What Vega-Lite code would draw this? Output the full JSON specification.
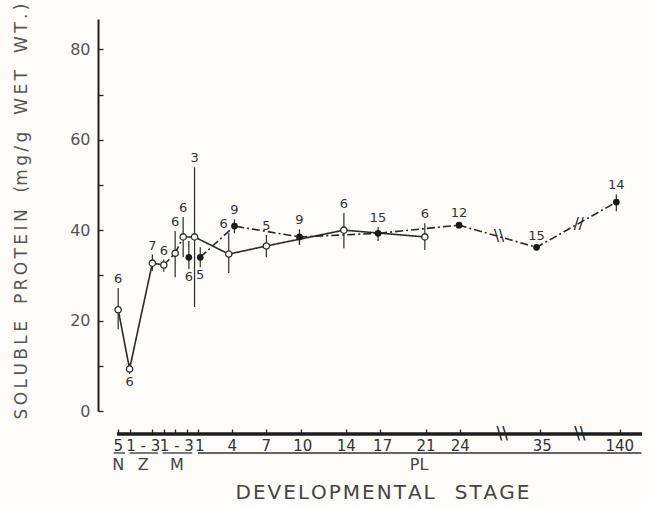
{
  "$schema": "https://vega.github.io/schema/vega-lite/v6.json",
  "background": "#fdfcf9",
  "padding": {"left": 12, "top": 3, "right": 5, "bottom": 3},
  "bounds": "flush",
  "spacing": 23,
  "config": {"view": {"stroke": null}, "font": "DejaVu Sans"},
  "datasets": {
    "pts": [
      {"stage": "N5", "type": "open", "t": -7, "v": 22.4, "lo": 18.1, "hi": 27.2, "n": "6", "lab": "above"},
      {"stage": "Z1", "type": "open", "t": -6, "v": 9.3, "lo": 8.2, "hi": 10.5, "n": "6", "lab": "below"},
      {"stage": "Z3", "type": "open", "t": -4, "v": 32.7, "lo": 31.0, "hi": 34.6, "n": "7", "lab": "above"},
      {"stage": "M1", "type": "open", "t": -3, "v": 32.3, "lo": 30.8, "hi": 33.5, "n": "6", "lab": "above"},
      {"stage": "M2", "type": "open", "t": -2, "v": 34.9, "lo": 29.6, "hi": 39.8, "n": "6", "lab": "above"},
      {"stage": "M3", "type": "open", "t": -1.3, "v": 38.5, "lo": 34.0, "hi": 42.9, "n": "6", "lab": "above"},
      {"stage": "PL1", "type": "open", "t": -0.3, "v": 38.5, "lo": 23.0, "hi": 53.9, "n": "3", "lab": "above"},
      {"stage": "M3", "type": "filled", "t": -0.8, "v": 34.0, "lo": 31.4, "hi": 37.6, "n": "6", "lab": "below"},
      {"stage": "PL1", "type": "filled", "t": 0.2, "v": 34.0, "lo": 31.8, "hi": 36.2, "n": "5", "lab": "below"},
      {"stage": "PL4", "type": "open", "t": 2.7, "v": 34.7, "lo": 30.5, "hi": 39.3, "n": "6", "lab": "aboveLeft"},
      {"stage": "PL4", "type": "filled", "t": 3.2, "v": 40.9, "lo": 39.3, "hi": 42.4, "n": "9", "lab": "above"},
      {"stage": "PL7", "type": "open", "t": 6.0, "v": 36.5, "lo": 34.0, "hi": 38.9, "n": "5", "lab": "above"},
      {"stage": "PL10", "type": "filled", "t": 8.9, "v": 38.5, "lo": 36.7, "hi": 40.2, "n": "9", "lab": "above"},
      {"stage": "PL14", "type": "open", "t": 12.8, "v": 40.0, "lo": 36.0, "hi": 43.8, "n": "6", "lab": "above"},
      {"stage": "PL17", "type": "filled", "t": 15.8, "v": 39.3, "lo": 37.6, "hi": 40.7, "n": "15", "lab": "above"},
      {"stage": "PL21", "type": "open", "t": 19.9, "v": 38.5, "lo": 35.6, "hi": 41.5, "n": "6", "lab": "above"},
      {"stage": "PL24", "type": "filled", "t": 22.9, "v": 41.1, "lo": 40.4, "hi": 41.8, "n": "12", "lab": "above"},
      {"stage": "PL35", "type": "filled", "t": 29.7, "v": 36.2, "lo": 35.7, "hi": 36.7, "n": "15", "lab": "above"},
      {"stage": "PL140", "type": "filled", "t": 36.7, "v": 46.2, "lo": 44.2, "hi": 47.9, "n": "14", "lab": "above"}
    ],
    "segs": [
      {"seg": "o1", "style": "solid", "t": -7, "v": 22.4},
      {"seg": "o1", "style": "solid", "t": -6, "v": 9.3},
      {"seg": "o1", "style": "solid", "t": -4, "v": 32.7},
      {"seg": "o1", "style": "solid", "t": -3, "v": 32.3},
      {"seg": "o2", "style": "dashdot", "t": -3, "v": 32.3},
      {"seg": "o2", "style": "dashdot", "t": -2, "v": 34.9},
      {"seg": "o2", "style": "dashdot", "t": -1.3, "v": 38.5},
      {"seg": "o3", "style": "solid", "t": -1.3, "v": 38.5},
      {"seg": "o3", "style": "solid", "t": -0.3, "v": 38.5},
      {"seg": "o3", "style": "solid", "t": 2.7, "v": 34.7},
      {"seg": "o3", "style": "solid", "t": 6.0, "v": 36.5},
      {"seg": "o3", "style": "solid", "t": 12.8, "v": 40.0},
      {"seg": "o3", "style": "solid", "t": 19.9, "v": 38.5},
      {"seg": "f1", "style": "dashdot", "t": 0.2, "v": 34.0},
      {"seg": "f1", "style": "dashdot", "t": 3.2, "v": 40.9},
      {"seg": "f1", "style": "dashdot", "t": 8.9, "v": 38.5},
      {"seg": "f1", "style": "dashdot", "t": 15.8, "v": 39.3},
      {"seg": "f1", "style": "dashdot", "t": 22.9, "v": 41.1},
      {"seg": "f1", "style": "dashdot", "t": 29.7, "v": 36.2},
      {"seg": "f1", "style": "dashdot", "t": 36.7, "v": 46.2}
    ],
    "linebreaks": [
      {"t": 26.4, "v": 38.7, "sym": "\\\\"},
      {"t": 33.4, "v": 41.3, "sym": "//"}
    ],
    "axisline": [
      {"x": -7.1, "x2": 38.95}
    ],
    "axisbreaks": [
      {"t": 26.7, "sym": "\\\\"},
      {"t": 33.5, "sym": "\\\\"}
    ],
    "stages": [
      {"t": -7, "lab": "5"},
      {"t": -4.8, "lab": "1 - 3"},
      {"t": -1.85, "lab": "1 - 3"},
      {"t": 0.15, "lab": "1"},
      {"t": 3, "lab": "4"},
      {"t": 6, "lab": "7"},
      {"t": 9.2, "lab": "10"},
      {"t": 13, "lab": "14"},
      {"t": 16.2, "lab": "17"},
      {"t": 20, "lab": "21"},
      {"t": 23, "lab": "24"},
      {"t": 30.2, "lab": "35"},
      {"t": 37, "lab": "140"}
    ],
    "underlines": [
      {"x": -7.4, "x2": -6.4},
      {"x": -6.0, "x2": -3.5},
      {"x": -3.1, "x2": -0.5},
      {"x": 0, "x2": 38.9}
    ],
    "groups": [
      {"t": -7, "lab": "N"},
      {"t": -4.8, "lab": "Z"},
      {"t": -1.85, "lab": "M"},
      {"t": 19.4, "lab": "PL"}
    ]
  },
  "vconcat": [
    {
      "width": 544,
      "height": 392,
      "layer": [
        {
          "data": {"name": "segs"},
          "mark": {"type": "line", "color": "#2a2a2a", "strokeWidth": 1.6},
          "encoding": {
            "x": {"field": "t", "type": "quantitative", "scale": {"domain": [-8.77, 38.95], "nice": false, "zero": false}, "axis": null},
            "y": {
              "field": "v", "type": "quantitative",
              "scale": {"domain": [0, 86.7], "nice": false, "zero": false},
              "axis": {
                "title": "S\u2009O\u2009L\u2009U\u2009B\u2009L\u2009E\u2003P\u2009R\u2009O\u2009T\u2009E\u2009I\u2009N\u2003(m\u2009g\u2009/\u2009g\u2003W\u2009E\u2009T\u2003W\u2009T\u2009.\u2009)",
                "values": [0, 10, 20, 30, 40, 50, 60, 70, 80],
                "labelExpr": "datum.value % 20 === 0 ? datum.label : ''",
                "tickSize": -5, "tickWidth": 1.3, "tickColor": "#222",
                "domainColor": "#222", "domainWidth": 2,
                "labelFontSize": 16, "labelColor": "#555", "labelPadding": 13,
                "titleFontSize": 17, "titleFontWeight": "normal", "titleColor": "#555", "titlePadding": 39,
                "titleY": 192,
                "grid": false
              }
            },
            "detail": {"field": "seg"},
            "strokeDash": {"field": "style", "type": "nominal", "scale": {"domain": ["solid", "dashdot"], "range": [[1, 0], [8, 3, 2, 3]]}, "legend": null}
          }
        },
        {
          "data": {"name": "pts"},
          "mark": {"type": "rule", "color": "#2a2a2a", "strokeWidth": 1.2},
          "encoding": {
            "x": {"field": "t", "type": "quantitative"},
            "y": {"field": "lo", "type": "quantitative"},
            "y2": {"field": "hi"}
          }
        },
        {
          "data": {"name": "pts"},
          "transform": [{"filter": "datum.type === 'open'"}],
          "mark": {"type": "point", "shape": "circle", "filled": true, "fill": "#fdfcf9", "stroke": "#2a2a2a", "strokeWidth": 1.3, "size": 40, "opacity": 1},
          "encoding": {
            "x": {"field": "t", "type": "quantitative"},
            "y": {"field": "v", "type": "quantitative"}
          }
        },
        {
          "data": {"name": "pts"},
          "transform": [{"filter": "datum.type === 'filled'"}],
          "mark": {"type": "point", "shape": "circle", "filled": true, "color": "#1a1a1a", "size": 45, "opacity": 1},
          "encoding": {
            "x": {"field": "t", "type": "quantitative"},
            "y": {"field": "v", "type": "quantitative"}
          }
        },
        {
          "data": {"name": "pts"},
          "transform": [{"filter": "datum.lab === 'above'"}],
          "mark": {"type": "text", "fontSize": 13, "color": "#333", "baseline": "bottom", "dy": -2},
          "encoding": {
            "x": {"field": "t", "type": "quantitative"},
            "y": {"field": "hi", "type": "quantitative"},
            "text": {"field": "n"}
          }
        },
        {
          "data": {"name": "pts"},
          "transform": [{"filter": "datum.lab === 'aboveLeft'"}],
          "mark": {"type": "text", "fontSize": 13, "color": "#333", "baseline": "bottom", "dy": -2, "dx": -5},
          "encoding": {
            "x": {"field": "t", "type": "quantitative"},
            "y": {"field": "hi", "type": "quantitative"},
            "text": {"field": "n"}
          }
        },
        {
          "data": {"name": "pts"},
          "transform": [{"filter": "datum.lab === 'below'"}],
          "mark": {"type": "text", "fontSize": 13, "color": "#333", "baseline": "top", "dy": 2},
          "encoding": {
            "x": {"field": "t", "type": "quantitative"},
            "y": {"field": "lo", "type": "quantitative"},
            "text": {"field": "n"}
          }
        },
        {
          "data": {"name": "linebreaks"},
          "mark": {"type": "text", "fontSize": 15, "color": "#222"},
          "encoding": {
            "x": {"field": "t", "type": "quantitative"},
            "y": {"field": "v", "type": "quantitative"},
            "text": {"field": "sym"}
          }
        }
      ]
    },
    {
      "width": 544,
      "height": 40,
      "resolve": {"axis": {"x": "independent"}},
      "layer": [
        {
          "data": {"name": "axisline"},
          "mark": {"type": "rule", "strokeWidth": 3.5, "color": "#1e1e1e"},
          "encoding": {
            "x": {
              "field": "x", "type": "quantitative",
              "scale": {"domain": [-8.77, 38.95], "nice": false, "zero": false},
              "axis": {"orient": "top", "values": [-7, -6, -4, -3, -2, -1, 0, 3, 6, 9, 13, 16, 20, 23, 30, 37], "labels": false, "domain": false, "tickSize": 5, "tickWidth": 1.3, "tickColor": "#222", "title": null, "grid": false}
            },
            "x2": {"field": "x2"},
            "y": {"datum": 0, "type": "quantitative", "scale": {"domain": [0, 40], "reverse": true, "nice": false, "zero": false}, "axis": null}
          }
        },
        {
          "data": {"name": "stages"},
          "mark": {"type": "text", "fontSize": 15, "color": "#333"},
          "encoding": {
            "x": {
              "field": "t", "type": "quantitative",
              "axis": {"orient": "bottom", "title": "D\u200aE\u200aV\u200aE\u200aL\u200aO\u200aP\u200aM\u200aE\u200aN\u200aT\u200aA\u200aL\u2003S\u200aT\u200aA\u200aG\u200aE", "labels": false, "ticks": false, "domain": false, "grid": false, "titleFontSize": 20, "titleFontWeight": "normal", "titleColor": "#444", "titlePadding": 8, "titleX": 284}
            },
            "y": {"datum": 12, "type": "quantitative"},
            "text": {"field": "lab"}
          }
        },
        {
          "data": {"name": "underlines"},
          "mark": {"type": "rule", "strokeWidth": 1.3, "color": "#333"},
          "encoding": {
            "x": {"field": "x", "type": "quantitative", "axis": null},
            "x2": {"field": "x2"},
            "y": {"datum": 19, "type": "quantitative"}
          }
        },
        {
          "data": {"name": "groups"},
          "mark": {"type": "text", "fontSize": 16, "color": "#444"},
          "encoding": {
            "x": {"field": "t", "type": "quantitative", "axis": null},
            "y": {"datum": 31, "type": "quantitative"},
            "text": {"field": "lab"}
          }
        },
        {
          "data": {"name": "axisbreaks"},
          "mark": {"type": "text", "fontSize": 17, "color": "#222"},
          "encoding": {
            "x": {"field": "t", "type": "quantitative", "axis": null},
            "y": {"datum": 0, "type": "quantitative"},
            "text": {"field": "sym"}
          }
        }
      ]
    }
  ]
}
